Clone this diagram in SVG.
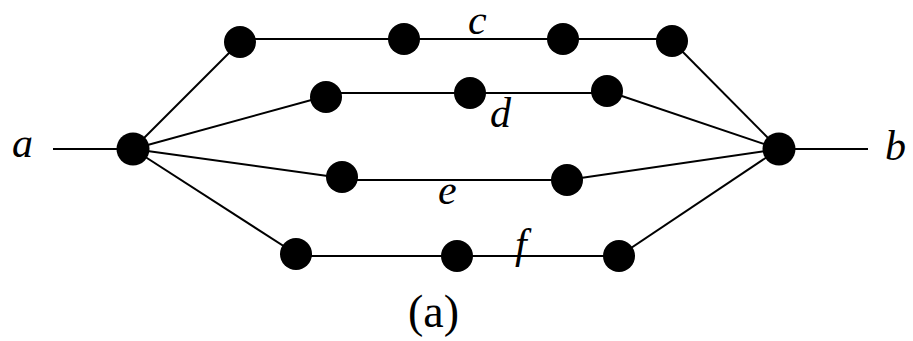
<svg xmlns="http://www.w3.org/2000/svg" width="913" height="341" viewBox="0 0 913 341">
<style>
.n{fill:#000}
.e{stroke:#000;stroke-width:2;fill:none}
.l{font-family:"Liberation Serif","Times New Roman",serif;font-style:italic;font-size:42px;fill:#000}
.cap{font-family:"Liberation Serif","Times New Roman",serif;font-size:46px;fill:#000}
</style>
<rect width="913" height="341" fill="#fff"/>
<g id="connectors" class="e">
<line x1="53" y1="149" x2="133" y2="149"/>
<line x1="779" y1="149" x2="868" y2="149"/>
<polyline points="133,149 240,42"/>
<polyline points="240,39 404,39 563,39 672,39"/>
<polyline points="672,41 779,149"/>
<polyline points="133,149 326,96"/>
<polyline points="326,93 607,93"/>
<polyline points="607,91 779,149"/>
<polyline points="133,149 342,178"/>
<polyline points="342,180 567,180"/>
<polyline points="567,180 779,149"/>
<polyline points="133,149 296,254"/>
<polyline points="296,256 619,256"/>
<polyline points="619,256 779,149"/>
</g>
<g id="hubA"><circle class="n" cx="133" cy="149" r="16.5"/></g>
<g id="hubB"><circle class="n" cx="779" cy="149" r="16.5"/></g>
<g id="c1"><circle class="n" cx="240" cy="42" r="16"/></g>
<g id="c2"><circle class="n" cx="404" cy="39" r="16"/></g>
<g id="c3"><circle class="n" cx="563" cy="39" r="16"/></g>
<g id="c4"><circle class="n" cx="672" cy="41" r="16"/></g>
<g id="d1"><circle class="n" cx="326" cy="97" r="16"/></g>
<g id="d2"><circle class="n" cx="470" cy="93" r="16"/></g>
<g id="d3"><circle class="n" cx="607" cy="91" r="16"/></g>
<g id="e1"><circle class="n" cx="342" cy="177" r="16"/></g>
<g id="e2"><circle class="n" cx="567" cy="180" r="16"/></g>
<g id="f1"><circle class="n" cx="296" cy="254" r="16"/></g>
<g id="f2"><circle class="n" cx="457" cy="256" r="16"/></g>
<g id="f3"><circle class="n" cx="619" cy="256" r="16"/></g>
<g id="labels">
<text class="l" x="12" y="157">a</text>
<text class="l" x="885" y="160">b</text>
<text class="l" x="468" y="34">c</text>
<text class="l" x="490" y="127">d</text>
<text class="l" x="438" y="204">e</text>
<text class="l" x="515" y="258">f</text>
<text class="cap" x="408" y="327">(a)</text>
</g>
</svg>
